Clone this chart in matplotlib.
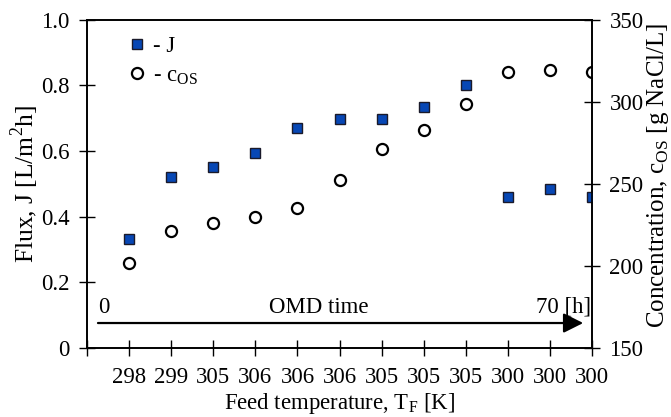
import matplotlib
matplotlib.use("Agg")
from matplotlib import pyplot as plt

# feed temperature per sample [K]
temps = ["298", "299", "305", "306", "306", "306", "305", "305", "305", "300", "300", "300"]
# permeate flux J [L/m2h]
flux = [0.332, 0.52, 0.55, 0.594, 0.67, 0.697, 0.698, 0.733, 0.80, 0.46, 0.484, 0.46]
# osmotic solution concentration [g NaCl/L]
c_os = [202, 221, 226, 230, 235.5, 252, 271, 283, 298.5, 318, 319, 318]

plt.rcParams['font.family'] = ['Liberation Serif', 'DejaVu Serif']
plt.rcParams['mathtext.fontset'] = 'custom'
plt.rcParams['mathtext.rm'] = 'Liberation Serif'
plt.rcParams['font.size'] = 16.4

fig = plt.figure(figsize=(6.71, 4.17), dpi=100)
ax = fig.add_axes([0.1297, 0.1655, 0.8823 - 0.1297, 0.9532 - 0.1655])
ax2 = ax.twinx()

x = list(range(1, len(temps) + 1))

l1, = ax.plot(x, flux, linestyle='none', marker='s', markersize=7.5,
              markerfacecolor='#0747b5', markeredgecolor='#1a1a2a', markeredgewidth=1.0,
              label='- J', zorder=5)
l2, = ax2.plot(x, c_os, linestyle='none', marker='o', markersize=8,
               markerfacecolor='none', markeredgecolor='black', markeredgewidth=1.6,
               label='- c$_{\\mathrm{OS}}$', zorder=5)

ax.set_xlim(0, 12)
ax.set_ylim(0, 1)
ax2.set_ylim(150, 350)

ax.set_xticks(range(0, 13))
ax.set_xticklabels([''] + temps)
ax.set_yticks([0, 0.2, 0.4, 0.6, 0.8, 1.0])
ax.set_yticklabels(['0', '0.2', '0.4', '0.6', '0.8', '1.0'])
ax2.set_yticks([150, 200, 250, 300, 350])

ax.tick_params(axis='y', direction='inout', length=11, width=1.0, pad=7)
ax.tick_params(axis='x', direction='inout', length=11, width=1.0, pad=8)
ax2.tick_params(axis='y', direction='inout', length=11, width=1.0, pad=7)

for a in (ax, ax2):
    for s in a.spines.values():
        s.set_linewidth(1.2)

ax.set_xlabel('Feed temperature, T$_{\\mathrm{F}}$ [K]', labelpad=2)
ax.set_ylabel('Flux, J [L/m$^{2}$h]', fontsize=18.4)
ax.yaxis.set_label_coords(-0.092, 0.50)
ax2.set_ylabel('Concentration, c$_{\\mathrm{OS}}$ [g NaCl/L]', rotation=90, fontsize=18)
ax2.yaxis.set_label_coords(1.104, 0.527)

# OMD time arrow
ax.annotate('', xy=(11.79, 0.076), xytext=(0.26, 0.076),
            arrowprops=dict(arrowstyle='-|>,head_length=0.6,head_width=0.3',
                            color='black', lw=1.6, mutation_scale=20,
                            shrinkA=0, shrinkB=0))
ax.text(0.26, 0.107, '0', ha='left', va='baseline')
ax.text(5.51, 0.107, 'OMD time', ha='center', va='baseline')
ax.text(11.97, 0.107, '70 [h]', ha='right', va='baseline')

ax.legend(handles=[l1, l2], loc='upper left', frameon=False,
          bbox_to_anchor=(0.05, 0.99), handletextpad=0.2, handlelength=1.0,
          labelspacing=0.35, borderaxespad=0.2)

fig.savefig('out.png', dpi=100)
